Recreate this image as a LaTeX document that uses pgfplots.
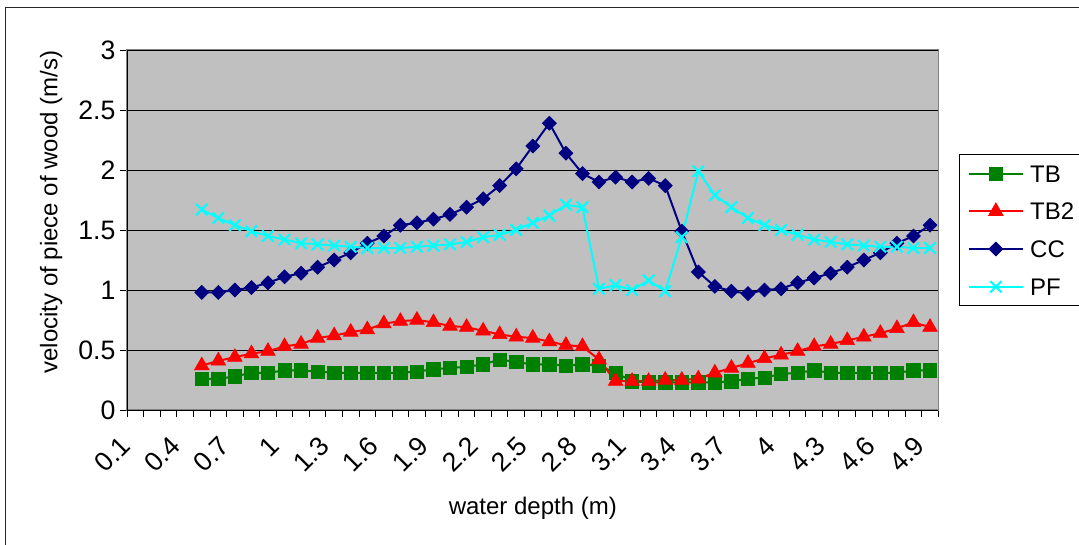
\documentclass[border=0pt]{standalone}
\usepackage{fontspec}
\setmainfont{Liberation Sans}
\usepackage{pgfplots}
\pgfplotsset{compat=1.18}
\usepackage{pgfplotstable}
\definecolor{tbgreen}{RGB}{0,128,0}
\definecolor{tbred}{RGB}{255,0,0}
\definecolor{ccnavy}{RGB}{0,0,128}
\definecolor{pfcyan}{RGB}{0,255,255}
\definecolor{plotgray}{RGB}{192,192,192}
\definecolor{edgegray}{RGB}{128,128,128}
\newcommand{\chartfont}{\fontsize{18}{21.6}\selectfont}
\newcommand{\tickfont}{\fontsize{20}{24}\selectfont}

\pgfplotstableread{
x TB TB2 CC PF
5 0.26 0.37 0.98 1.67
6 0.26 0.41 0.98 1.60
7 0.28 0.44 1.00 1.54
8 0.31 0.47 1.02 1.49
9 0.31 0.49 1.06 1.45
10 0.33 0.53 1.11 1.42
11 0.33 0.55 1.14 1.39
12 0.32 0.60 1.19 1.38
13 0.31 0.62 1.25 1.37
14 0.31 0.65 1.31 1.36
15 0.31 0.67 1.39 1.35
16 0.31 0.72 1.45 1.35
17 0.31 0.74 1.54 1.35
18 0.32 0.75 1.56 1.36
19 0.34 0.73 1.59 1.37
20 0.35 0.70 1.63 1.38
21 0.36 0.69 1.69 1.40
22 0.38 0.66 1.76 1.44
23 0.42 0.63 1.87 1.46
24 0.40 0.61 2.01 1.50
25 0.38 0.60 2.20 1.56
26 0.38 0.57 2.39 1.62
27 0.37 0.54 2.14 1.71
28 0.38 0.53 1.97 1.69
29 0.37 0.42 1.90 1.01
30 0.31 0.24 1.94 1.04
31 0.24 0.24 1.90 1.00
32 0.23 0.24 1.93 1.08
33 0.23 0.25 1.87 0.99
34 0.23 0.25 1.49 1.44
35 0.23 0.26 1.15 1.99
36 0.23 0.31 1.03 1.79
37 0.24 0.35 0.99 1.69
38 0.26 0.39 0.97 1.60
39 0.27 0.43 1.00 1.54
40 0.30 0.46 1.01 1.50
41 0.31 0.49 1.06 1.46
42 0.33 0.53 1.10 1.42
43 0.31 0.55 1.14 1.40
44 0.31 0.58 1.19 1.38
45 0.31 0.61 1.25 1.37
46 0.31 0.64 1.31 1.36
47 0.31 0.68 1.39 1.36
48 0.33 0.73 1.45 1.35
49 0.33 0.69 1.54 1.35
}\datatable

\begin{document}
\begin{tikzpicture}
\useasboundingbox (0pt,0pt) rectangle (809.25pt,408pt);
\draw[line width=1.1pt, black!85] (4.125pt,-5pt) -- (4.125pt,402.375pt) -- (815pt,402.375pt);
\begin{axis}[
  at={(95.475pt,100.5pt)}, anchor=south west,
  scale only axis, width=608.25pt, height=270pt,
  xmin=0.5, xmax=49.5, ymin=0, ymax=3,
  clip=false,
  axis background/.style={fill=plotgray},
  axis line style={draw=edgegray, line width=1.2pt},
  ytick={0,0.5,1,1.5,2,2.5,3},
  xtick={1,4,...,49},
  xticklabels={0.1,0.4,0.7,1,1.3,1.6,1.9,2.2,2.5,2.8,3.1,3.4,3.7,4,4.3,4.6,4.9},
  minor xtick={0.5,1.5,...,49.5},
  tick pos=left,
  tick align=outside,
  major tick length=5.25pt,
  minor tick length=5.25pt,
  tick style={black, line width=0.75pt},
  major x tick style={draw=none},
  ymajorgrids,
  grid style={black, line width=0.75pt},
  /pgf/number format/assume math mode=true,
  ticklabel style={font=\tickfont},
  yticklabel style={inner xsep=3.5pt},
  xticklabel style={xshift=-7.5pt, yshift=-18pt, rotate=45, anchor=east, inner sep=0pt},
  xlabel={water depth (m)},
  ylabel={velocity of piece of wood (m/s)},
  label style={font=\chartfont},
  xlabel style={at={(axis description cs:0.5,-0.272)}, anchor=center},
  ylabel style={at={(axis description cs:-0.094,0.55)}, anchor=center, rotate=0},
  legend style={at={(1.0259,0.711)}, anchor=north west, draw=black, line width=0.75pt,
    fill=white, font=\chartfont, inner xsep=5.8pt, inner ysep=6pt, row sep=11.8pt,
    column sep=4.5pt, nodes={text height=14.7pt, text depth=1.8pt, inner sep=0pt}},
  legend cell align=left,
  legend image code/.code={\draw[mark repeat=2, mark phase=2, #1] plot coordinates {(0pt,0pt) (20.5pt,0pt) (41pt,0pt)};},
]
\addplot[tbgreen, line width=1.5pt, mark=square*, mark size=5pt, mark options={solid, fill=tbgreen, draw=tbgreen, line width=0.5pt}] table[x=x, y=TB] {\datatable};
\addlegendentry{\makebox[40pt][l]{TB}}
\addplot[tbred, line width=1.5pt, mark=triangle*, mark size=6.3pt, mark options={solid, fill=tbred, draw=tbred, line width=0.5pt}] table[x=x, y=TB2] {\datatable};
\addlegendentry{\makebox[40pt][l]{TB2}}
\addplot[ccnavy, line width=1.5pt, mark=square*, mark size=3.7pt, mark options={solid, fill=ccnavy, draw=ccnavy, line width=0.5pt, rotate=45}] table[x=x, y=CC] {\datatable};
\addlegendentry{\makebox[40pt][l]{CC}}
\addplot[pfcyan, line width=1.5pt, mark=x, mark size=6pt, mark options={solid, draw=pfcyan, line width=1.6pt}] table[x=x, y=PF] {\datatable};
\addlegendentry{\makebox[40pt][l]{PF}}
\draw[black, line width=0.75pt] (rel axis cs:1,1) -- (rel axis cs:0,1) -- (rel axis cs:0,0) -- (rel axis cs:1,0);
\end{axis}
\end{tikzpicture}
\end{document}
